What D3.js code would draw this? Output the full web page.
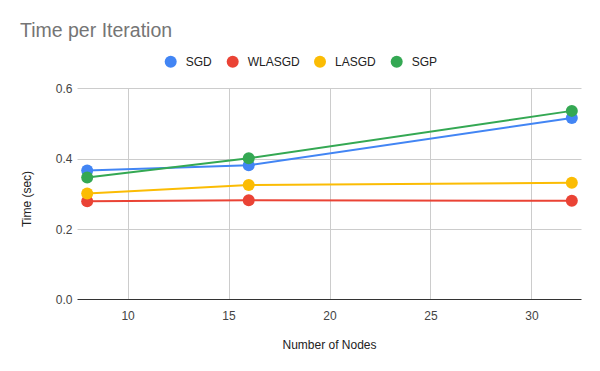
<!DOCTYPE html>
<html>
<head>
<meta charset="utf-8">
<script src="https://cdn.jsdelivr.net/npm/d3@7"></script>
<style>
  body { margin: 0; background: #fff; }
  text { font-family: "Liberation Sans", Arial, sans-serif; }
</style>
</head>
<body>
<svg width="600" height="371"></svg>
<script>
// données
const nodes = [8, 16, 32];
const seriesNames = ["SGD", "WLASGD", "LASGD", "SGP"];
const sgd = [0.367, 0.382, 0.516];
const wlasgd = [0.280, 0.283, 0.281];
const lasgd = [0.302, 0.326, 0.332];
const sgp = [0.347, 0.402, 0.536];
const xTicks = [10, 15, 20, 25, 30];
const yTicks = [0, 0.2, 0.4, 0.6];

const colors = ["#4285f4", "#ea4335", "#fbbc04", "#34a853"];
const series = [sgd, wlasgd, lasgd, sgp].map((vals, i) => ({
  name: seriesNames[i],
  color: colors[i],
  points: vals.map((v, j) => ({ x: nodes[j], y: v }))
}));

const svg = d3.select("svg");
const plotLeft = 77.5, plotRight = 581.5, plotTop = 88.3, plotBottom = 300;

const x = d3.scaleLinear().domain([7.52, 32.48]).range([plotLeft, plotRight]);
const y = d3.scaleLinear().domain([0, 0.6]).range([plotBottom, plotTop]);

// grille
svg.append("g")
  .selectAll("line")
  .data(xTicks)
  .join("line")
  .attr("x1", d => Math.round(x(d)) + 0.5)
  .attr("x2", d => Math.round(x(d)) + 0.5)
  .attr("y1", plotTop).attr("y2", plotBottom)
  .attr("stroke", "#cccccc");

svg.append("g")
  .selectAll("line")
  .data(yTicks.filter(d => d > 0))
  .join("line")
  .attr("x1", plotLeft).attr("x2", plotRight)
  .attr("y1", d => Math.round(y(d)) + 0.5)
  .attr("y2", d => Math.round(y(d)) + 0.5)
  .attr("stroke", "#cccccc");

// axe des x (ligne de base)
svg.append("line")
  .attr("x1", plotLeft).attr("x2", plotRight)
  .attr("y1", Math.round(y(0)) - 0.5).attr("y2", Math.round(y(0)) - 0.5)
  .attr("stroke", "#333333");

const xAxis = d3.axisBottom(x).tickValues(xTicks).tickSize(0).tickPadding(11);
svg.append("g")
  .attr("transform", "translate(0," + plotBottom + ")")
  .call(xAxis)
  .call(g => g.select(".domain").remove())
  .selectAll("text")
  .attr("font-size", 12)
  .attr("fill", "#444444");

const yAxis = d3.axisLeft(y).tickValues(yTicks).tickFormat(d3.format(".1f")).tickSize(0).tickPadding(5);
svg.append("g")
  .attr("transform", "translate(" + plotLeft + ",0)")
  .call(yAxis)
  .call(g => g.select(".domain").remove())
  .selectAll("text")
  .attr("font-size", 12)
  .attr("fill", "#444444");

// lignes + points
const line = d3.line().x(d => x(d.x)).y(d => y(d.y));

svg.append("g")
  .selectAll("path")
  .data(series)
  .join("path")
  .attr("fill", "none")
  .attr("stroke", d => d.color)
  .attr("stroke-width", 2)
  .attr("d", d => line(d.points));

series.forEach(s => {
  svg.append("g")
    .selectAll("circle")
    .data(s.points)
    .join("circle")
    .attr("cx", d => x(d.x))
    .attr("cy", d => y(d.y))
    .attr("r", 6)
    .attr("fill", s.color);
});

// titre
svg.append("text")
  .attr("x", 20).attr("y", 37.3)
  .attr("font-size", 19.5)
  .attr("fill", "#757575")
  .text("Time per Iteration");

// titres des axes
svg.append("text")
  .attr("x", (plotLeft + plotRight) / 2).attr("y", 349)
  .attr("text-anchor", "middle")
  .attr("font-size", 12)
  .attr("fill", "#222222")
  .text("Number of Nodes");

svg.append("text")
  .attr("transform", "translate(31,199) rotate(-90)")
  .attr("text-anchor", "middle")
  .attr("font-size", 12)
  .attr("fill", "#222222")
  .text("Time (sec)");

// légende
const legendX = [170.7, 232.7, 320, 396.7];
const legend = svg.append("g")
  .selectAll("g")
  .data(series)
  .join("g")
  .attr("transform", (d, i) => "translate(" + legendX[i] + ",61.7)");
legend.append("circle").attr("r", 6).attr("fill", d => d.color);
legend.append("text")
  .attr("x", 15).attr("y", 4.3)
  .attr("font-size", 12)
  .attr("fill", "#222222")
  .text(d => d.name);
</script>
</body>
</html>
